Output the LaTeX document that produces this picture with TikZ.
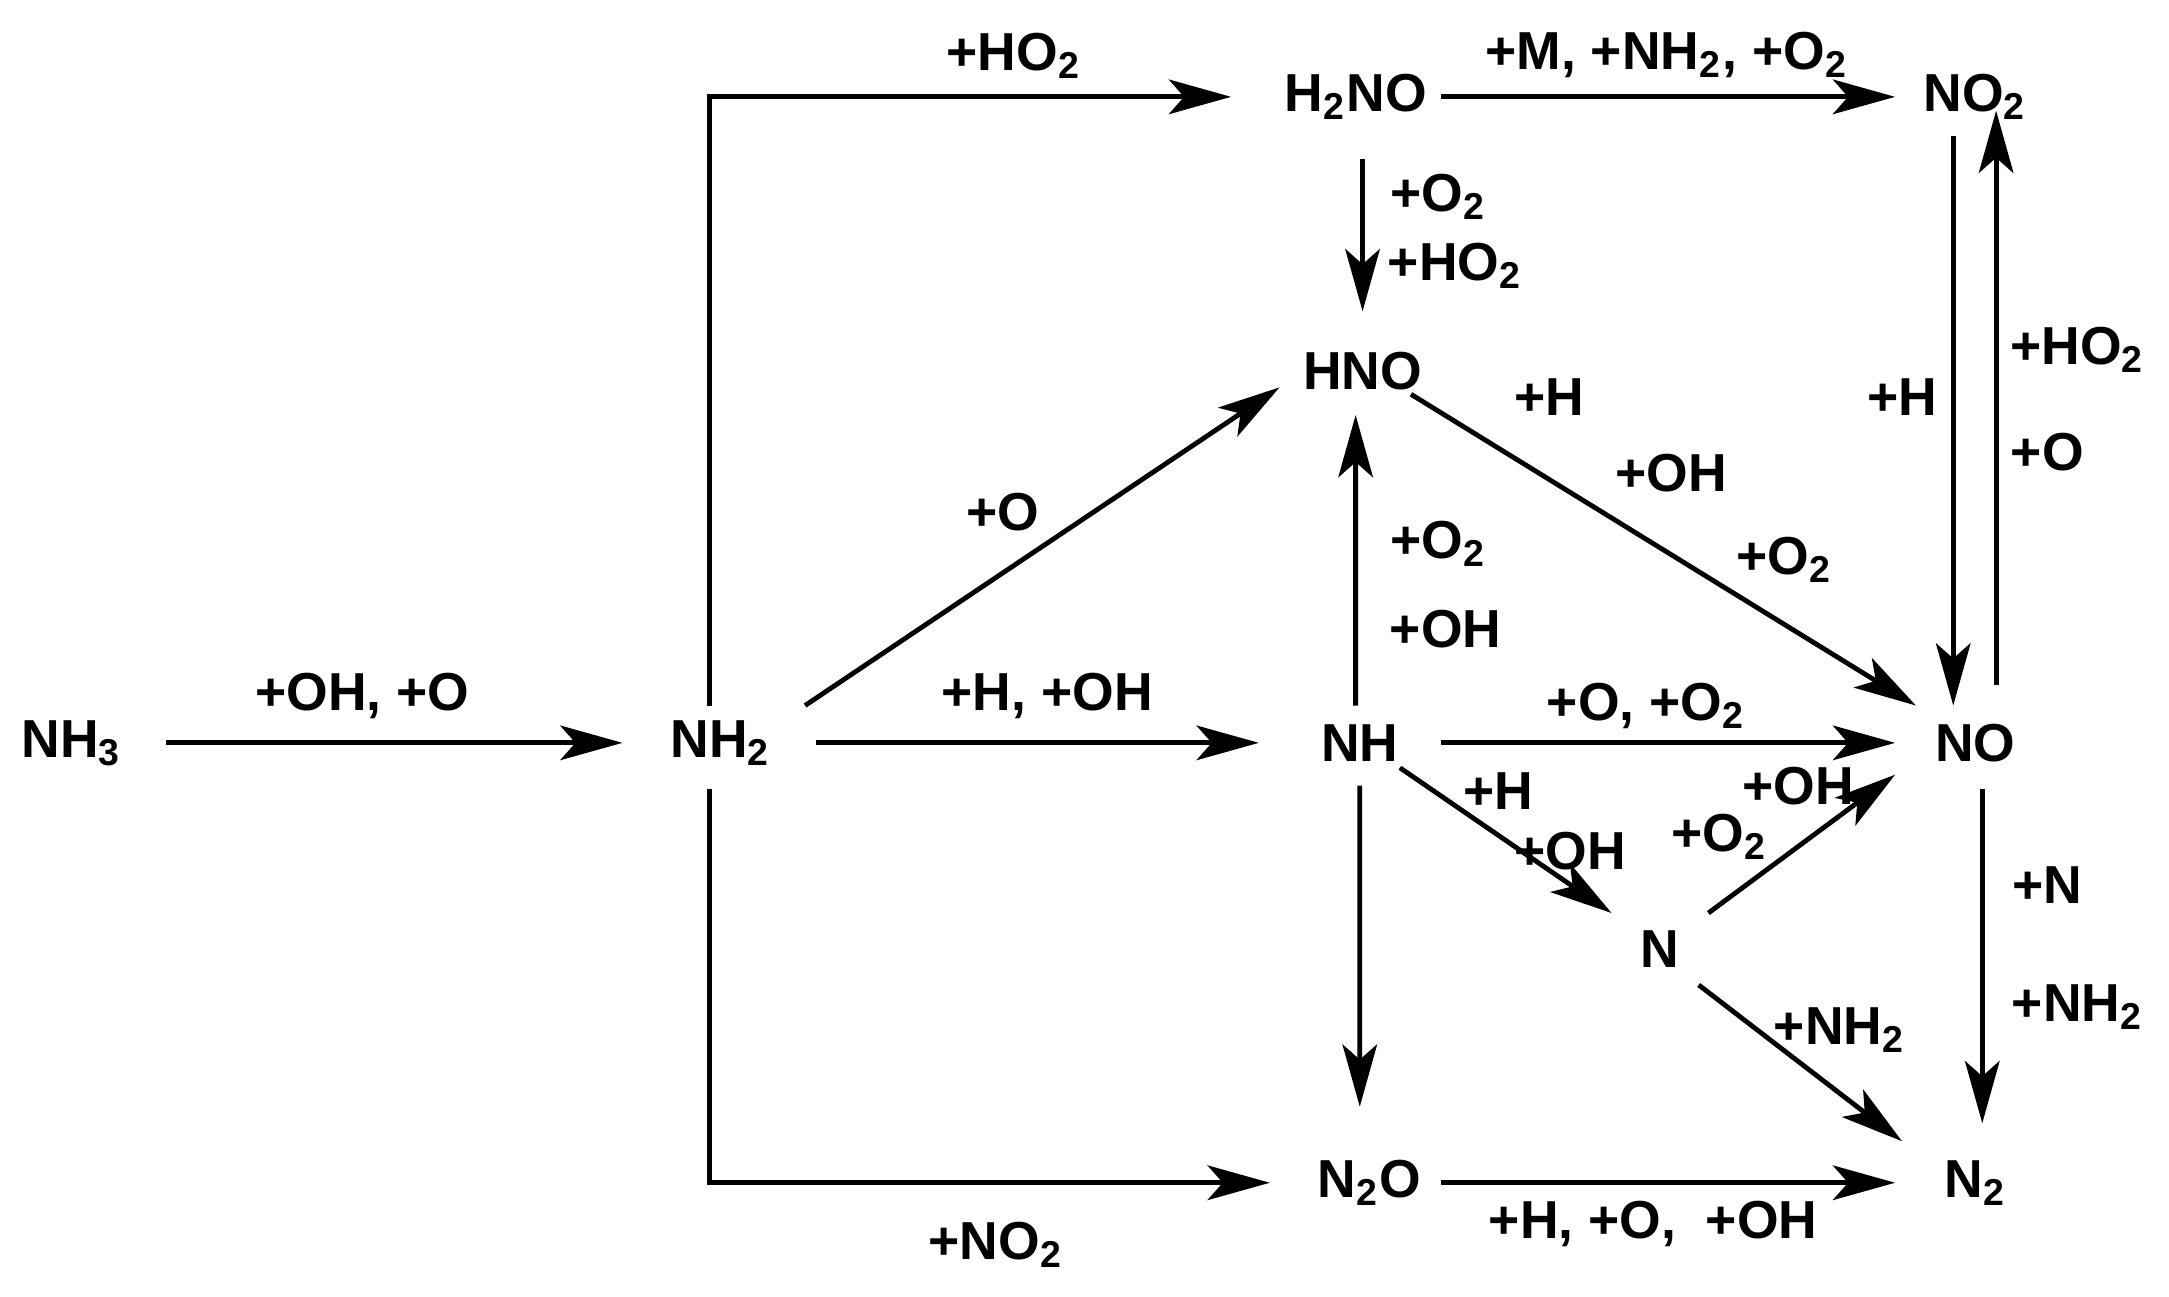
\documentclass[tikz,border=0pt]{standalone}
\usepackage{fontspec}
\setmainfont{Liberation Sans}
\usetikzlibrary{arrows.meta}
\newcommand{\sub}[1]{\textsubscript{#1}}
\begin{document}
\begin{tikzpicture}[
  sp/.style={font=\fontsize{11}{13}\selectfont\bfseries, inner sep=0pt},
  lb/.style={font=\fontsize{11}{13}\selectfont\bfseries, inner sep=0pt},
  ar/.style={line width=0.035cm, -{Stealth[length=0.45cm,width=0.25cm,inset=0.11cm]}}]
\useasboundingbox (0,0) rectangle (15.68,-9.37);
\node[sp] (NH3) at (0.52,-5.37) {NH\sub{3}};
\node[sp] (NH2) at (5.21,-5.37) {NH\sub{2}};
\node[sp] (NH) at (9.83,-5.37) {NH};
\node[sp] (NO) at (14.28,-5.37) {NO};
\node[sp] (H2NO) at (9.80,-0.70) {H\sub{2}NO};
\node[sp] (NO2) at (14.28,-0.70) {NO\sub{2}};
\node[sp] (HNO) at (9.85,-2.68) {HNO};
\node[sp] (N) at (12.00,-6.86) {N};
\node[sp] (N2O) at (9.90,-8.55) {N\sub{2}O};
\node[sp] (N2) at (14.28,-8.55) {N\sub{2}};
\draw[ar] ([xshift=0.68cm]NH3.center) -- ([xshift=-0.71cm]NH2.center);
\draw[ar] ([xshift=0.69cm]NH2.center) -- ([xshift=-0.73cm]NH.center);
\draw[ar] ([shift={(-0.08,0.27)}]NH2.center) |- ([xshift=-0.90cm]H2NO.center);
\draw[ar] ([shift={(-0.08,-0.33)}]NH2.center) |- ([xshift=-0.72cm]N2O.center);
\draw[ar] ([shift={(0.61,0.27)}]NH2.center) -- ([shift={(-0.60,-0.12)}]HNO.center);
\draw[ar] ([xshift=0.62cm]H2NO.center) -- ([xshift=-0.58cm]NO2.center);
\draw[ar] ([shift={(0.05,-0.45)}]H2NO.center) -- ([shift={(0,0.43)}]HNO.center);
\draw[ar] ([shift={(0.35,-0.17)}]HNO.center) -- ([shift={(-0.43,0.27)}]NO.center);
\draw[ar] ([shift={(-0.03,0.27)}]NH.center) -- ([shift={(-0.05,-0.32)}]HNO.center);
\draw[ar] ([xshift=0.59cm]NH.center) -- ([xshift=-0.58cm]NO.center);
\draw[ar] ([shift={(0.29,-0.18)}]NH.center) -- ([shift={(-0.35,0.26)}]N.center);
\draw[ar] ([shift={(0.35,0.26)}]N.center) -- ([shift={(-0.58,-0.23)}]NO.center);
\draw[ar] ([shift={(0.28,-0.26)}]N.center) -- ([shift={(-0.53,0.30)}]N2.center);
\draw[ar] ([shift={(0,-0.31)}]NH.center) -- ([shift={(-0.07,0.55)}]N2O.center);
\draw[ar] ([xshift=0.52cm]N2O.center) -- ([xshift=-0.58cm]N2.center);
\draw[ar] ([shift={(-0.16,-0.28)}]NO2.center) -- ([shift={(-0.16,0.27)}]NO.center);
\draw[ar] ([shift={(0.15,0.42)}]NO.center) -- ([shift={(0.15,-0.10)}]NO2.center);
\draw[ar] ([shift={(0.05,-0.33)}]NO.center) -- ([shift={(0.05,0.43)}]N2.center);
\node[lb] (l1) at (2.62,-5.03) {+OH, +O};
\node[lb] (l2) at (7.57,-5.03) {+H, +OH};
\node[lb] (l3) at (7.33,-0.40) {+HO\sub{2}};
\node[lb] (l4) at (7.20,-9.00) {+NO\sub{2}};
\node[lb] (l5) at (7.25,-3.70) {+O};
\node[lb] (l6) at (12.05,-0.40) {+M, +NH\sub{2}, +O\sub{2}};
\node[lb] (l7) at (10.40,-1.42) {+O\sub{2}};
\node[lb] (l8) at (10.52,-1.92) {+HO\sub{2}};
\node[lb] (l9) at (11.20,-2.87) {+H};
\node[lb] (l10) at (12.08,-3.42) {+OH};
\node[lb] (l11) at (12.90,-4.05) {+O\sub{2}};
\node[lb] (l12) at (10.40,-3.93) {+O\sub{2}};
\node[lb] (l13) at (10.45,-4.55) {+OH};
\node[lb] (l14) at (11.90,-5.10) {+O, +O\sub{2}};
\node[lb] (l15) at (10.83,-5.72) {+H};
\node[lb] (l16) at (11.35,-6.15) {+OH};
\node[lb] (l17) at (13.00,-5.68) {+OH};
\node[lb] (l18) at (12.43,-6.05) {+O\sub{2}};
\node[lb] (l19) at (13.30,-7.45) {+NH\sub{2}};
\node[lb] (l20) at (11.95,-8.85) {+H, +O,\ \ +OH};
\node[lb] (l21) at (13.75,-2.87) {+H};
\node[lb] (l22) at (15.02,-2.53) {+HO\sub{2}};
\node[lb] (l23) at (14.80,-3.27) {+O};
\node[lb] (l24) at (14.80,-6.40) {+N};
\node[lb] (l25) at (15.02,-7.28) {+NH\sub{2}};
\end{tikzpicture}
\end{document}
